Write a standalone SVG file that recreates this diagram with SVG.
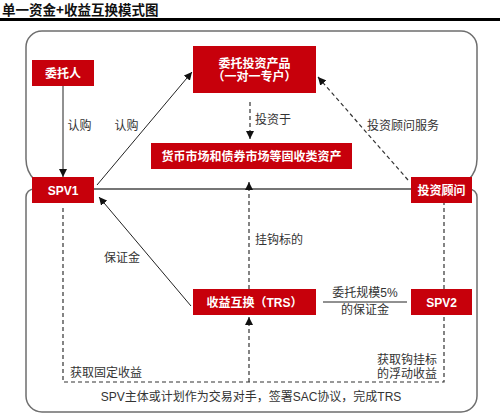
<svg xmlns="http://www.w3.org/2000/svg" width="500" height="415" viewBox="0 0 500 415">
<style>
  .panel{fill:none;stroke:#6e6e6e;stroke-width:1.5}
  .box{fill:#C7000B}
  .nt{font-family:"Liberation Sans","Noto Sans CJK SC",sans-serif;font-size:12px;font-weight:bold;fill:#fff;text-anchor:middle}
  .lb{font-family:"Liberation Sans","Noto Sans CJK SC",sans-serif;font-size:12px;fill:#333}
  .solid{fill:none;stroke:#222;stroke-width:1}
  .dash{fill:none;stroke:#333;stroke-width:1.2;stroke-dasharray:4 3}
</style>
<defs>
  <marker id="ah" viewBox="0 0 10 10" refX="10" refY="5" markerWidth="8" markerHeight="8" markerUnits="userSpaceOnUse" orient="auto">
    <path d="M0,0 L10,5 L0,10 Z" fill="#111"/>
  </marker>
</defs>
<rect width="500" height="415" fill="#fff"/>
<text x="2" y="15" font-family="'Noto Sans CJK SC',sans-serif" font-size="13.5" font-weight="bold" fill="#111">单一资金+收益互换模式图</text>
<rect x="0" y="18" width="500" height="3" fill="#000"/>
<g id="panels">
  <path class="panel" d="M42,31 H461 A16,16 0 0 1 477,47 V159 A30,30 0 0 1 447,189 H56 A30,30 0 0 1 26,159 V47 A16,16 0 0 1 42,31 Z"/>
  <path class="panel" d="M34,189 H469 A8,8 0 0 1 477,197 V396 A16,16 0 0 1 461,412 H42 A16,16 0 0 1 26,396 V197 A8,8 0 0 1 34,189 Z"/>
</g>
<g id="connectors">
  <line class="solid" x1="63" y1="86" x2="63" y2="177" marker-end="url(#ah)"/>
  <line class="solid" x1="97" y1="185" x2="192" y2="72" marker-end="url(#ah)"/>
  <line class="dash" x1="250" y1="102" x2="250" y2="139" marker-end="url(#ah)"/>
  <line class="dash" x1="408" y1="180" x2="318" y2="77" marker-end="url(#ah)"/>
  <line class="dash" x1="249" y1="289" x2="249" y2="182" marker-end="url(#ah)"/>
  <line class="solid" x1="191" y1="306" x2="99" y2="197" marker-end="url(#ah)"/>
  <line class="solid" x1="323" y1="302" x2="407" y2="302" stroke="#444"/>
  <path class="dash" d="M63,208 V382 H444 V315 M444,289 V203"/>
  <line class="dash" x1="249" y1="382" x2="249" y2="317" marker-end="url(#ah)"/>
</g>
<g id="labels">
  <text class="lb" x="79.5" y="130" text-anchor="middle">认购</text>
  <text class="lb" x="126.5" y="130" text-anchor="middle">认购</text>
  <text class="lb" x="255" y="124">投资于</text>
  <text class="lb" x="367" y="130">投资顾问服务</text>
  <text class="lb" x="255" y="244">挂钩标的</text>
  <text class="lb" x="104" y="262">保证金</text>
  <text class="lb" x="365" y="297" text-anchor="middle">委托规模5%</text>
  <text class="lb" x="365" y="314" text-anchor="middle">的保证金</text>
  <text class="lb" x="70" y="377">获取固定收益</text>
  <text class="lb" x="377" y="364">获取钩挂标</text>
  <text class="lb" x="377" y="378">的浮动收益</text>
  <text class="lb" x="251" y="401" text-anchor="middle">SPV主体或计划作为交易对手，签署SAC协议，完成TRS</text>
</g>
<g id="n-weituoren">
  <rect class="box" x="32" y="60" width="62" height="26"/>
  <text class="nt" x="63" y="77.5">委托人</text>
</g>
<g id="n-product">
  <rect class="box" x="193" y="46" width="123" height="47"/>
  <text class="nt" x="254.5" y="68">委托投资产品</text>
  <text class="nt" x="254.5" y="81">（一对一专户）</text>
</g>
<g id="n-assets">
  <rect class="box" x="151" y="143" width="201" height="26"/>
  <text class="nt" x="251.5" y="160.5">货币市场和债券市场等固收类资产</text>
</g>
<g id="n-spv1">
  <rect class="box" x="32" y="177" width="62" height="26"/>
  <text class="nt" x="63" y="195" font-size="13" font-weight="normal">SPV1</text>
</g>
<g id="n-advisor">
  <rect class="box" x="411" y="177" width="61" height="26"/>
  <text class="nt" x="441.5" y="194.5">投资顾问</text>
</g>
<g id="n-trs">
  <rect class="box" x="193" y="289" width="123" height="26"/>
  <text class="nt" x="254.5" y="306.5">收益互换（TRS）</text>
</g>
<g id="n-spv2">
  <rect class="box" x="411" y="289" width="61" height="26"/>
  <text class="nt" x="441.5" y="307" font-size="13" font-weight="normal">SPV2</text>
</g>
</svg>
